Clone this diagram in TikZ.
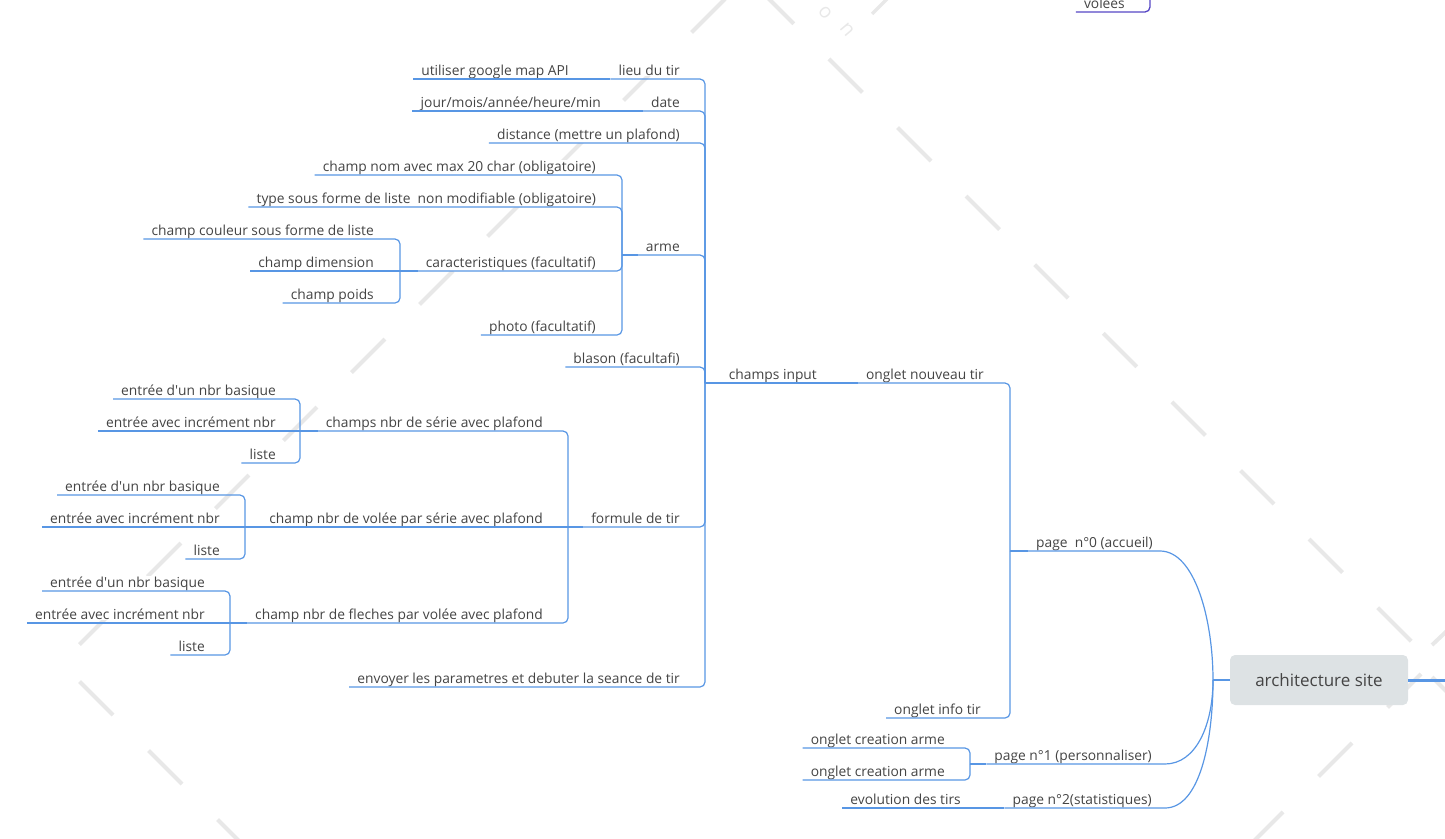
\documentclass[tikz,border=0pt]{standalone}
\usepackage{fontspec}
\setmainfont{Open Sans}
\usetikzlibrary{calc}

\definecolor{linkblue}{RGB}{88,150,228}
\definecolor{linkpurple}{RGB}{86,70,196}
\definecolor{inkgray}{RGB}{68,68,68}
\definecolor{rootfill}{RGB}{221,226,228}
\definecolor{wmgray}{RGB}{232,232,232}

\tikzset{
  lbl/.style={anchor=base east, inner xsep=0pt, inner ysep=0.5pt, fill=white,
    text=inkgray, font=\fontsize{13.8}{16}\selectfont},
  conn/.style={draw=linkblue, line width=1.2pt},
  stub/.style={draw=linkblue, line width=2.2pt},
  wm/.style={draw=wmgray, line width=4pt},
  wmletter/.style={text=wmgray, rotate=-50, inner sep=0pt, font=\fontsize{20}{22}\selectfont},
  rootbox/.style={fill=rootfill, rounded corners=5pt, minimum width=178pt,
    minimum height=50pt, inner sep=0pt, text=inkgray, font=\fontsize{17}{20}\selectfont},
}

% a topic: name, right edge of its text, y of its underline, text
\newcommand\topic[4]{%
  \node[lbl] (#1) at (#2,#3-4) {#4};
  \coordinate (#1-u) at ([shift={(-8pt,-4pt)}]#1.base west);
}
% child underline bending into its parent's vertical bar
\newcommand\elbow[2]{\draw[conn, rounded corners=5pt] (#1-u) -| (#2);}
\newcommand\straight[2]{\draw[conn] (#1-u) -- (#2);}
\newcommand\stubto[2]{\draw[stub] (#1) -- (#2-u);}

\begin{document}
\begin{tikzpicture}[x=1pt, y=-1pt]
\useasboundingbox (0,0) rectangle (1445,838);
\begin{scope}
\clip (0,0) rectangle (1445,838);

% background watermark dashes
\foreach \e in {793.8,862.4,931,999.6,1068.2,1136.8,1205.4,1274,1342.6,1411.2}
  \draw[wm] (\e-33.5,\e-33.5-770) -- (\e,\e-770);
\foreach \e in {113,182,251}
  \draw[wm] (\e-33.5,\e-33.5+602) -- (\e,\e+602);
\foreach \e in {113,181,249,317,385,453,521,589,657,725}
  \draw[wm] (\e-33.5,724-\e+33.5) -- (\e,724-\e);
\foreach \e in {1283,1352,1421}
  \draw[wm] (\e-33.5,2095-\e+33.5) -- (\e,2095-\e);
\draw[wm] (1432,645) -- (1450,628);
\draw[wm] (1432,677) -- (1450,695);
\draw[wm, line width=3.5pt] (872,14) -- (890,-4);
\node[wmletter] (wmo) at (825,13) {o};
\node[wmletter] (wmn) at (847,30) {n};

% central topic
\node[rootbox] (root) at (1319,680) {architecture site};
\coordinate (rootj) at (1213,680);
\coordinate (offr) at (1460,680);
\coordinate (offtop) at (1150,-20);

% topics
\topic{vol}{1125}{12}{volées}
\topic{p0}{1153}{551}{page\ \ n°0 (accueil)}
\topic{p1}{1152}{764}{page n°1 (personnaliser)}
\topic{p2}{1152}{808}{page n°2(statistiques)}
\topic{ont}{984}{383}{onglet nouveau tir}
\topic{oit}{981}{718}{onglet info tir}
\topic{oca}{945}{748}{onglet creation arme}
\topic{ocb}{945}{780}{onglet creation arme}
\topic{evo}{961}{808}{evolution des tirs}
\topic{ci}{817}{383}{champs input}

\topic{lieu}{680}{79}{lieu du tir}
\topic{uga}{569}{79}{utiliser google map API}
\topic{date}{680}{111}{date}
\topic{jour}{601}{111}{jour/mois/année/heure/min}
\topic{dist}{680}{143}{distance (mettre un plafond)}
\topic{arme}{680}{255}{arme}
\topic{blason}{680}{367}{blason (facultafi)}
\topic{formule}{680}{527}{formule de tir}
\topic{envoi}{680}{687}{envoyer les parametres et debuter la seance de tir}

\topic{nom}{596}{175}{champ nom avec max 20 char (obligatoire)}
\topic{type}{596}{207}{type sous forme de liste\ \ non modifiable (obligatoire)}
\topic{carac}{596}{271}{caracteristiques (facultatif)}
\topic{photo}{596}{335}{photo (facultatif)}
\topic{coul}{374}{239}{champ couleur sous forme de liste}
\topic{dim}{374}{271}{champ dimension}
\topic{poids}{374}{303}{champ poids}

\topic{serie}{543}{431}{champs nbr de série avec plafond}
\topic{volee}{543}{527}{champ nbr de volée par série avec plafond}
\topic{fleches}{543}{623}{champ nbr de fleches par volée avec plafond}
\topic{sa}{276}{399}{entrée d\textquotesingle un nbr basique}
\topic{sb}{276}{431}{entrée avec incrément nbr}
\topic{sc}{276}{463}{liste}
\topic{va}{220}{495}{entrée d\textquotesingle un nbr basique}
\topic{vb}{220}{527}{entrée avec incrément nbr}
\topic{vc}{220}{559}{liste}
\topic{fa}{205}{591}{entrée d\textquotesingle un nbr basique}
\topic{fb}{205}{623}{entrée avec incrément nbr}
\topic{fc}{205}{655}{liste}

% junctions of the vertical bars
\coordinate (p0j) at (1010,551);
\coordinate (p1j) at (970,764);
\coordinate (cij) at (705,383);
\coordinate (armej) at (622,255);
\coordinate (caracj) at (400,271);
\coordinate (formj) at (568,527);
\coordinate (seriej) at (300,431);
\coordinate (voleej) at (245,527);
\coordinate (flechesj) at (230,623);

% central topic links
\draw[linkblue, line width=3pt] (root.east) -- (offr);
\draw[conn] (rootj) -- (root.west);
\draw[conn] (p0-u) -- (1160,551) .. controls (1195,551) and (1213,620) .. (rootj);
\draw[conn] (p1-u) -- (1165,764) .. controls (1196,764) and (1213,725) .. (rootj);
\draw[conn] (p2-u) -- (1165,808) .. controls (1200,808) and (1213,740) .. (rootj);

\draw[draw=linkpurple, line width=1.3pt, rounded corners=5pt] (vol-u) -| (offtop);

% page n°0
\stubto{p0j}{p0}
\elbow{ont}{p0j}
\elbow{oit}{p0j}
\straight{ci}{ont-u}
% page n°1 and n°2
\stubto{p1j}{p1}
\elbow{oca}{p1j}
\elbow{ocb}{p1j}
\straight{evo}{p2-u}

% champs input
\stubto{cij}{ci}
\elbow{lieu}{cij}
\elbow{date}{cij}
\elbow{dist}{cij}
\elbow{arme}{cij}
\elbow{blason}{cij}
\elbow{formule}{cij}
\elbow{envoi}{cij}
\straight{uga}{lieu-u}
\straight{jour}{date-u}

% arme
\stubto{armej}{arme}
\elbow{nom}{armej}
\elbow{type}{armej}
\elbow{carac}{armej}
\elbow{photo}{armej}
\stubto{caracj}{carac}
\elbow{coul}{caracj}
\straight{dim}{caracj}
\elbow{poids}{caracj}

% formule de tir
\stubto{formj}{formule}
\elbow{serie}{formj}
\straight{volee}{formj}
\elbow{fleches}{formj}
\stubto{seriej}{serie}
\elbow{sa}{seriej}
\straight{sb}{seriej}
\elbow{sc}{seriej}
\stubto{voleej}{volee}
\elbow{va}{voleej}
\straight{vb}{voleej}
\elbow{vc}{voleej}
\stubto{flechesj}{fleches}
\elbow{fa}{flechesj}
\straight{fb}{flechesj}
\elbow{fc}{flechesj}
\end{scope}
\end{tikzpicture}
\end{document}
